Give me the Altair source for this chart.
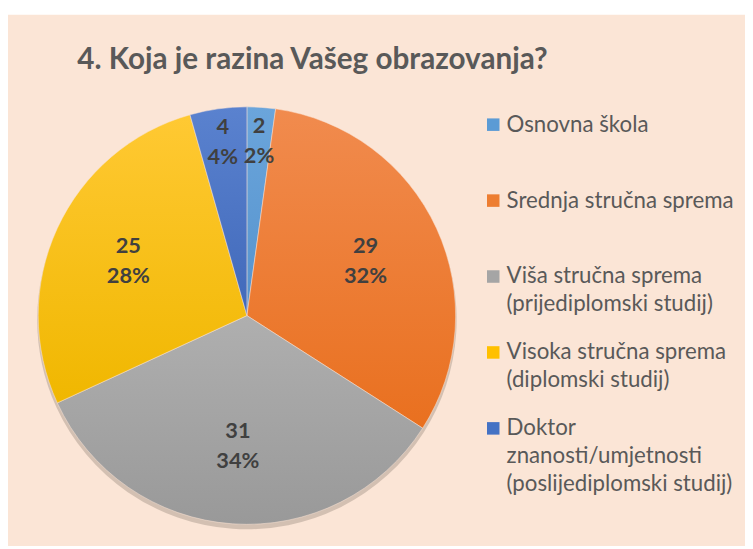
import altair as alt
import pandas as pd

categories = [
    "Osnovna škola",
    "Srednja stručna sprema",
    "Viša stručna sprema|(prijediplomski studij)",
    "Visoka stručna sprema|(diplomski studij)",
    "Doktor|znanosti/umjetnosti|(poslijediplomski studij)",
]
counts = [2, 29, 31, 25, 4]
percent_labels = ["2%", "32%", "34%", "28%", "4%"]
colors = ["#5B9BD5", "#ED7D31", "#A5A5A5", "#FFC000", "#4472C4"]
grad_top = ["#6BA5DB", "#F18B4E", "#AFAFAF", "#FFC933", "#5A82CF"]
grad_bottom = ["#5593CE", "#E9701F", "#999999", "#F0B700", "#4169BA"]
title_text = "4. Koja je razina Vašeg obrazovanja?"

df = pd.DataFrame({
    "idx": list(range(len(categories))),
    "cat": categories,
    "value": counts,
    "pct": percent_labels,
})

FONT = "Lato"
CX, CY, R = 241.5, 304, 211


def gradient(i):
    return {
        "gradient": "linear", "x1": 0, "y1": 0, "x2": 0, "y2": 1,
        "stops": [
            {"offset": 0, "color": grad_top[i]},
            {"offset": 1, "color": grad_bottom[i]},
        ],
    }


fill_rule = alt.when(alt.datum.idx == 0).then(alt.value(gradient(0)))
for i in range(1, len(categories) - 1):
    fill_rule = fill_rule.when(alt.datum.idx == i).then(alt.value(gradient(i)))
fill_rule = fill_rule.otherwise(alt.value(gradient(len(categories) - 1)))

base = alt.Chart(df)

shadow = base.mark_arc(color="#8a7a70", opacity=0.35, radius=R + 1).encode(
    theta=alt.Theta("value:Q", stack=True),
    order=alt.Order("idx:Q"),
    x=alt.value(CX),
    y=alt.value(CY + 4),
)

pie = base.mark_arc(radius=R, stroke="#FBE5D6", strokeWidth=0.5).encode(
    theta=alt.Theta("value:Q", stack=True),
    order=alt.Order("idx:Q"),
    fill=fill_rule,
    x=alt.value(CX),
    y=alt.value(CY),
)

labels = base.transform_joinaggregate(
    total="sum(value)"
).transform_window(
    cum="sum(value)", sort=[alt.SortField("idx")], frame=[None, 0]
).transform_calculate(
    lab="[format(datum.value, 'd'), datum.pct]",
    lr="datum.value < 5 ? 177 : 132",
    ang="2 * PI * (datum.cum - datum.value / 2) / datum.total",
).transform_calculate(
    px=f"{CX} + datum.lr * sin(datum.ang)",
    py=f"{CY} - datum.lr * cos(datum.ang)",
).mark_text(
    font=FONT, fontSize=22, fontWeight="bold", color="#404040",
    lineHeight=30, baseline="middle", align="center", dy=-15,
).encode(
    x=alt.X("px:Q", scale=None, axis=None),
    y=alt.Y("py:Q", scale=None, axis=None),
    text=alt.Text("lab:N"),
)

leg_scale = alt.Scale(domain=[0, 4], range=[111, 418])

leg_sym = base.mark_square(size=160, opacity=1).encode(
    x=alt.value(490.5),
    y=alt.Y("idx:Q", scale=leg_scale, axis=None),
    color=alt.Color("cat:N", scale=alt.Scale(domain=categories, range=colors), legend=None),
)

leg_txt = base.transform_calculate(
    lines="split(datum.cat, '|')"
).mark_text(
    font=FONT, fontSize=22.5, color="#595959", align="left",
    baseline="alphabetic", lineHeight=28, dy=7,
).encode(
    x=alt.value(504),
    y=alt.Y("idx:Q", scale=leg_scale, axis=None),
    text=alt.Text("lines:N"),
)

title = alt.Chart(pd.DataFrame({"t": [title_text]})).mark_text(
    font=FONT, fontSize=30, fontWeight="bold", color="#595959",
    align="left", baseline="alphabetic",
).encode(
    x=alt.value(70),
    y=alt.value(55),
    text="t:N",
)

chart = alt.layer(shadow, pie, labels, leg_sym, leg_txt, title).properties(
    width=745,
    height=537,
    padding={"left": 0, "top": 4, "right": 0, "bottom": 0},
    autosize=alt.AutoSizeParams(type="none"),
    background="white",
).configure_view(fill="#FBE5D6", stroke=None)

chart.save("out.html", embed_options={"renderer": "svg", "actions": False})
